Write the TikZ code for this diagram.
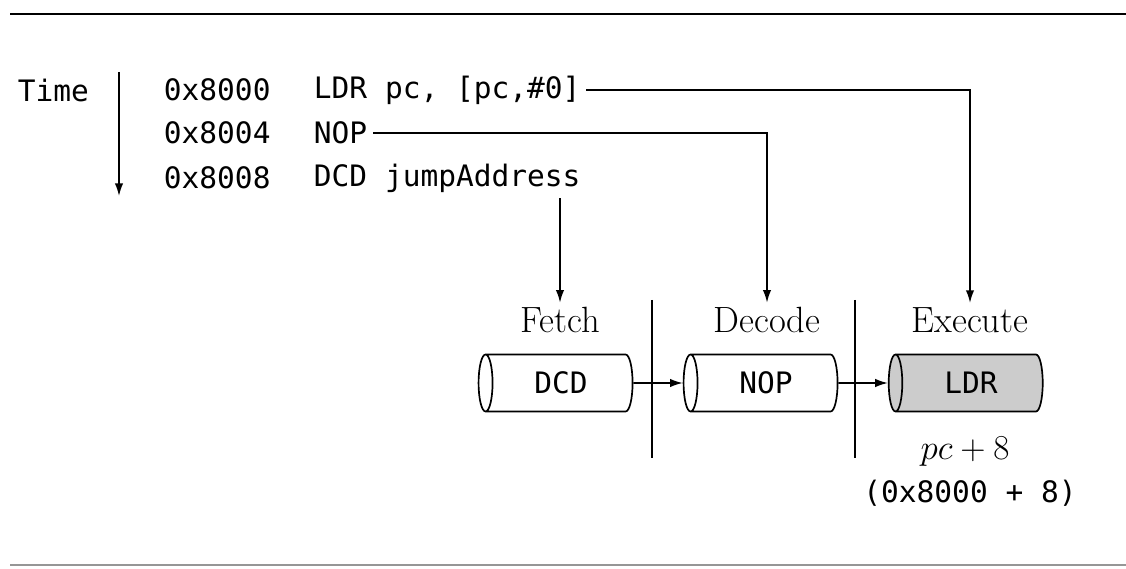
\documentclass[tikz,border=0pt]{standalone}
\usepackage{fontspec}
\setmonofont{DejaVu Sans Mono}
\usepackage{tikz}
\usetikzlibrary{shapes.geometric,arrows.meta,positioning,calc}
\definecolor{StageGray}{RGB}{204,204,204}
\definecolor{RuleGray}{RGB}{150,150,150}
\newcommand{\codefont}{\fontsize{21}{25}\selectfont\ttfamily}
\newcommand{\stagefont}{\fontsize{26}{30}\selectfont}

\begin{document}
\begin{tikzpicture}[
  code/.style={anchor=west,font=\codefont,inner sep=4pt},
  stage/.style={font=\stagefont,inner sep=3pt},
  pipe/.style={cylinder,shape border rotate=180,draw,line width=1.2pt,
               minimum height=3.85cm,minimum width=1.425cm,aspect=0.5,
               font=\codefont,inner sep=2pt},
  flow/.style={->,>={Latex[length=9pt,width=6pt]},line width=1.1pt},
]
\useasboundingbox (0,0) rectangle (28.15,14.2);
\draw[line width=2pt] (0.25,13.85) -- (28.15,13.85);
\draw[RuleGray,line width=1.5pt] (0.25,0.075) -- (28.15,0.075);

% program listing
\node[code] (time) at (0.3,11.95) {Time};
\node[code] (a1) at (3.95,11.95) {0x8000};
\node[code] (a2) at (3.95,10.875) {0x8004};
\node[code] (a3) at (3.95,9.75) {0x8008};
\node[code] (i1) at (7.7,11.95) {LDR pc, [pc,\#0]};
\node[code] (i2) at (7.7,10.875) {NOP};
\node[code] (i3) at (7.7,9.75) {DCD jumpAddress};
\coordinate (ttop) at (2.975,12.4);
\coordinate (tbot) at (2.975,9.3);
\draw[flow] (ttop) -- (tbot);

% pipeline stages
\node[stage] (fetch) at (14.0,6.2) {Fetch};
\node[stage] (decode) at (19.175,6.2) {Decode};
\node[stage] (execute) at (24.25,6.2) {Execute};
\node[pipe] (fcyl) at (14.025,4.625) {DCD};
\node[pipe] (dcyl) at (19.15,4.625) {NOP};
\node[pipe,fill=StageGray] (ecyl) at (24.275,4.625) {LDR};
\draw[line width=1pt] (16.3,6.7) -- (16.3,2.75);
\draw[line width=1pt] (21.375,6.7) -- (21.375,2.75);
\draw[flow] (fcyl.east) -- (dcyl.west);
\draw[flow] (dcyl.east) -- (ecyl.west);

\node[stage] (pc) at (24.125,2.9) {$pc+8$};
\node[font=\codefont,inner sep=2pt] (addr) at (24.25,1.875) {(0x8000 + 8)};

% instructions entering the pipe
\draw[flow] (i1.east) -| (execute.north);
\draw[flow] (i2.east) -| (decode.north);
\draw[flow] (i3.south -| fetch) -- (fetch.north);
\end{tikzpicture}
\end{document}
